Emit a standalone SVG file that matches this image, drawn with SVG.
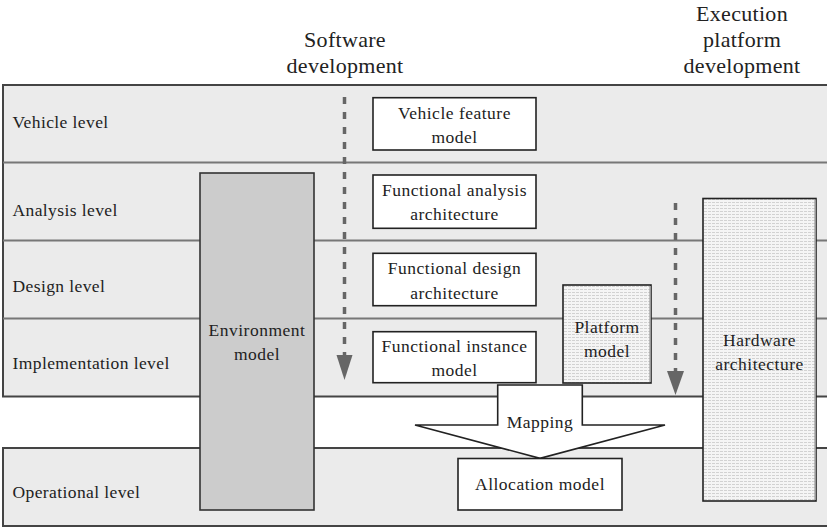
<svg xmlns="http://www.w3.org/2000/svg" width="827" height="529" viewBox="0 0 827 529" font-family="Liberation Serif, Times New Roman, serif">
<style>
text{fill:#222;}
.lbl{font-size:17.5px;letter-spacing:0.4px;}
.box{font-size:17.5px;letter-spacing:0.5px;text-anchor:middle;}
.head{font-size:22px;letter-spacing:0.3px;text-anchor:middle;}
.band{fill:#ebebeb;stroke:#444;stroke-width:2;}
.sep{stroke:#777;stroke-width:2;}
.wbox{fill:#fff;stroke:#222;stroke-width:1.6;}
.dash{stroke:#666;stroke-width:3.5;stroke-dasharray:7 8;fill:none;}
.arrowhead{fill:#666;}
</style>
<defs>
<pattern id="stripes" width="4" height="3" patternUnits="userSpaceOnUse">
<rect width="4" height="3" fill="#f5f5f5"/>
<rect y="1" width="3" height="1" fill="#d2d2d2"/>
</pattern>
</defs>

<g id="headings">
<text class="head" x="345" y="47">Software</text>
<text class="head" x="345" y="73">development</text>
<text class="head" x="742" y="21">Execution</text>
<text class="head" x="742" y="47">platform</text>
<text class="head" x="742" y="73">development</text>
</g>

<g id="levels">
<rect class="band" x="3" y="85" width="830" height="311.5"/>
<line class="sep" x1="3" y1="162.5" x2="827" y2="162.5"/>
<line class="sep" x1="3" y1="240.5" x2="827" y2="240.5"/>
<line class="sep" x1="3" y1="318.5" x2="827" y2="318.5"/>
<rect class="band" x="3" y="448" width="830" height="78"/>
<text class="lbl" x="12.5" y="128">Vehicle level</text>
<text class="lbl" x="12.5" y="215.5">Analysis level</text>
<text class="lbl" x="12.5" y="292">Design level</text>
<text class="lbl" x="12.5" y="368.5">Implementation level</text>
<text class="lbl" x="12.5" y="498">Operational level</text>
</g>

<g id="environment-model">
<rect x="200" y="173" width="114" height="337" fill="#cccccc" stroke="#333" stroke-width="1.6"/>
<text class="box" x="257" y="336">Environment</text>
<text class="box" x="257" y="360">model</text>
</g>

<g id="vehicle-feature-model">
<rect class="wbox" x="373" y="97.7" width="163" height="52.3"/>
<text class="box" x="454.5" y="118.5">Vehicle feature</text>
<text class="box" x="454.5" y="143">model</text>
</g>

<g id="functional-analysis-architecture">
<rect class="wbox" x="373" y="175" width="163" height="53.3"/>
<text class="box" x="454.5" y="196">Functional analysis</text>
<text class="box" x="454.5" y="220">architecture</text>
</g>

<g id="functional-design-architecture">
<rect class="wbox" x="373" y="253.3" width="163" height="52.4"/>
<text class="box" x="454.5" y="274.3">Functional design</text>
<text class="box" x="454.5" y="298.5">architecture</text>
</g>

<g id="functional-instance-model">
<rect class="wbox" x="373" y="331.7" width="163" height="51"/>
<text class="box" x="454.5" y="351.5">Functional instance</text>
<text class="box" x="454.5" y="375.5">model</text>
</g>

<g id="platform-model">
<rect x="563" y="285" width="88" height="98" fill="url(#stripes)" stroke="#222" stroke-width="1.6"/>
<line x1="650.2" y1="286" x2="650.2" y2="382" stroke="#999" stroke-width="1.6"/>
<text class="box" x="607" y="333">Platform</text>
<text class="box" x="607" y="357">model</text>
</g>

<g id="hardware-architecture">
<rect x="703" y="198.5" width="113" height="302.5" fill="url(#stripes)" stroke="#222" stroke-width="1.6"/>
<line x1="815.2" y1="199.5" x2="815.2" y2="500" stroke="#999" stroke-width="1.6"/>
<text class="box" x="759.5" y="345.5">Hardware</text>
<text class="box" x="759.5" y="369.5">architecture</text>
</g>

<g id="connectors">
<line class="dash" x1="344.5" y1="97" x2="344.5" y2="356"/>
<polygon class="arrowhead" points="336.5,355 352.5,355 344.5,380"/>
<line class="dash" x1="675.5" y1="203" x2="675.5" y2="372"/>
<polygon class="arrowhead" points="667,371 684,371 675.5,395"/>
<g id="mapping">
<polygon points="497.7,385 582.3,385 582.3,425 665,425 540,458.3 415,425 497.7,425" fill="#fff" stroke="#222" stroke-width="1.6"/>
<text class="box" x="540" y="428">Mapping</text>
</g>
</g>

<g id="allocation-model">
<rect class="wbox" x="458" y="458.5" width="164" height="51.5"/>
<text class="box" x="540" y="490">Allocation model</text>
</g>
</svg>
